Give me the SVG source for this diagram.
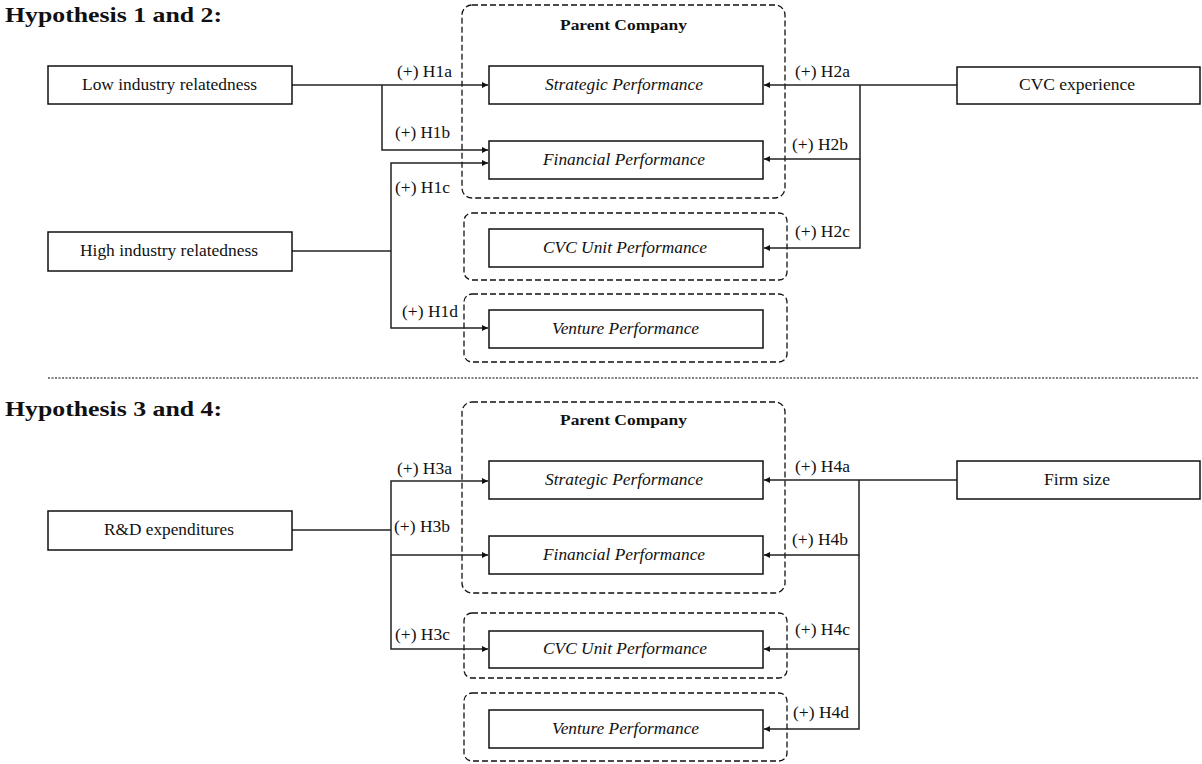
<svg xmlns="http://www.w3.org/2000/svg" width="1202" height="764" viewBox="0 0 1202 764">
  <style>
    text { font-family: "Liberation Serif", "Times New Roman", serif; fill: #111; }
    .title { font-size: 22px; font-weight: bold; }
    .group-title { font-size: 15px; font-weight: bold; }
    .label { font-size: 16px; }
    .node-text { font-size: 16px; }
    .outcome-text { font-size: 16px; font-style: italic; }
    .box { fill: #fff; stroke: #111; stroke-width: 1.5; }
    .frame { fill: none; stroke: #111; stroke-width: 1.3; stroke-dasharray: 6 3; }
    .link { fill: none; stroke: #222; stroke-width: 1.5; }
    .arrow { marker-end: url(#head); }
    .divider { stroke: #555; stroke-width: 1.5; stroke-dasharray: 2 1.5; }
  </style>
  <defs>
    <marker id="head" viewBox="0 0 10 10" refX="10" refY="5" markerWidth="6" markerHeight="6" markerUnits="userSpaceOnUse" orient="auto">
      <path d="M0,0 L10,5 L0,10 z" fill="#111"/>
    </marker>
  </defs>

  <rect width="1202" height="764" fill="#fff"/>

  <!-- ===== Hypotheses 1 and 2 ===== -->
  <text class="title" x="5" y="22" textLength="217" lengthAdjust="spacingAndGlyphs">Hypothesis 1 and 2:</text>

  <g id="frames-top">
    <rect class="frame" x="462" y="5" width="323" height="193" rx="10"/>
    <text class="group-title" x="560" y="30" textLength="127" lengthAdjust="spacingAndGlyphs">Parent Company</text>
    <rect class="frame" x="464" y="213" width="323" height="67" rx="8"/>
    <rect class="frame" x="464" y="294" width="323" height="68" rx="8"/>
  </g>

  <g id="connectors-top">
    <path class="link arrow" d="M292,85 H488"/>
    <path class="link arrow" d="M382,85 V150 H488"/>
    <path class="link" d="M292,251 H391"/>
    <path class="link arrow" d="M391,251 V163 H488"/>
    <path class="link arrow" d="M391,251 V328 H488"/>
    <path class="link arrow" d="M957,85 H764"/>
    <path class="link arrow" d="M860,85 V159 H764"/>
    <path class="link arrow" d="M860,159 V248 H764"/>
    <text class="label" x="397" y="77" textLength="55" lengthAdjust="spacingAndGlyphs">(+) H1a</text>
    <text class="label" x="395" y="138" textLength="55" lengthAdjust="spacingAndGlyphs">(+) H1b</text>
    <text class="label" x="395" y="193" textLength="55" lengthAdjust="spacingAndGlyphs">(+) H1c</text>
    <text class="label" x="402" y="317" textLength="56" lengthAdjust="spacingAndGlyphs">(+) H1d</text>
    <text class="label" x="795" y="77" textLength="55" lengthAdjust="spacingAndGlyphs">(+) H2a</text>
    <text class="label" x="792" y="150" textLength="56" lengthAdjust="spacingAndGlyphs">(+) H2b</text>
    <text class="label" x="795" y="237" textLength="55" lengthAdjust="spacingAndGlyphs">(+) H2c</text>
  </g>

  <g id="low-relatedness">
    <rect class="box" x="48" y="66" width="244" height="38"/>
    <text class="node-text" x="82" y="90" textLength="175" lengthAdjust="spacingAndGlyphs">Low industry relatedness</text>
  </g>
  <g id="high-relatedness">
    <rect class="box" x="48" y="232" width="244" height="39"/>
    <text class="node-text" x="80" y="256" textLength="178" lengthAdjust="spacingAndGlyphs">High industry relatedness</text>
  </g>
  <g id="cvc-experience">
    <rect class="box" x="957" y="67" width="243" height="37"/>
    <text class="node-text" x="1019" y="90" textLength="116" lengthAdjust="spacingAndGlyphs">CVC experience</text>
  </g>
  <g id="strategic-1">
    <rect class="box" x="489" y="66" width="274" height="38"/>
    <text class="outcome-text" x="545" y="90" textLength="158" lengthAdjust="spacingAndGlyphs">Strategic Performance</text>
  </g>
  <g id="financial-1">
    <rect class="box" x="489" y="141" width="274" height="38"/>
    <text class="outcome-text" x="543" y="165" textLength="162" lengthAdjust="spacingAndGlyphs">Financial Performance</text>
  </g>
  <g id="cvc-unit-1">
    <rect class="box" x="489" y="229" width="274" height="38"/>
    <text class="outcome-text" x="543" y="253" textLength="164" lengthAdjust="spacingAndGlyphs">CVC Unit Performance</text>
  </g>
  <g id="venture-1">
    <rect class="box" x="489" y="310" width="274" height="38"/>
    <text class="outcome-text" x="552" y="334" textLength="147" lengthAdjust="spacingAndGlyphs">Venture Performance</text>
  </g>

  <line class="divider" x1="48" y1="378" x2="1198" y2="378"/>

  <!-- ===== Hypotheses 3 and 4 ===== -->
  <text class="title" x="5" y="416" textLength="217" lengthAdjust="spacingAndGlyphs">Hypothesis 3 and 4:</text>

  <g id="frames-bottom">
    <rect class="frame" x="462" y="402" width="323" height="191" rx="10"/>
    <text class="group-title" x="560" y="425" textLength="127" lengthAdjust="spacingAndGlyphs">Parent Company</text>
    <rect class="frame" x="464" y="613" width="323" height="65" rx="8"/>
    <rect class="frame" x="464" y="693" width="323" height="68" rx="8"/>
  </g>

  <g id="connectors-bottom">
    <path class="link" d="M292,530 H391"/>
    <path class="link arrow" d="M391,530 V481 H488"/>
    <path class="link arrow" d="M391,555 H488"/>
    <path class="link arrow" d="M391,530 V649 H488"/>
    <path class="link arrow" d="M957,480 H764"/>
    <path class="link arrow" d="M859,480 V555 H764"/>
    <path class="link arrow" d="M859,555 V649 H764"/>
    <path class="link arrow" d="M859,649 V729 H764"/>
    <text class="label" x="397" y="474" textLength="55" lengthAdjust="spacingAndGlyphs">(+) H3a</text>
    <text class="label" x="394" y="532" textLength="56" lengthAdjust="spacingAndGlyphs">(+) H3b</text>
    <text class="label" x="395" y="640" textLength="55" lengthAdjust="spacingAndGlyphs">(+) H3c</text>
    <text class="label" x="795" y="472" textLength="55" lengthAdjust="spacingAndGlyphs">(+) H4a</text>
    <text class="label" x="792" y="545" textLength="56" lengthAdjust="spacingAndGlyphs">(+) H4b</text>
    <text class="label" x="795" y="635" textLength="55" lengthAdjust="spacingAndGlyphs">(+) H4c</text>
    <text class="label" x="793" y="718" textLength="56" lengthAdjust="spacingAndGlyphs">(+) H4d</text>
  </g>

  <g id="rd-expenditures">
    <rect class="box" x="48" y="511" width="244" height="39"/>
    <text class="node-text" x="104" y="535" textLength="130" lengthAdjust="spacingAndGlyphs">R&amp;D expenditures</text>
  </g>
  <g id="firm-size">
    <rect class="box" x="957" y="461" width="243" height="38"/>
    <text class="node-text" x="1044" y="485" textLength="66" lengthAdjust="spacingAndGlyphs">Firm size</text>
  </g>
  <g id="strategic-2">
    <rect class="box" x="489" y="461" width="274" height="38"/>
    <text class="outcome-text" x="545" y="485" textLength="158" lengthAdjust="spacingAndGlyphs">Strategic Performance</text>
  </g>
  <g id="financial-2">
    <rect class="box" x="489" y="536" width="274" height="38"/>
    <text class="outcome-text" x="543" y="560" textLength="162" lengthAdjust="spacingAndGlyphs">Financial Performance</text>
  </g>
  <g id="cvc-unit-2">
    <rect class="box" x="489" y="631" width="274" height="37"/>
    <text class="outcome-text" x="543" y="654" textLength="164" lengthAdjust="spacingAndGlyphs">CVC Unit Performance</text>
  </g>
  <g id="venture-2">
    <rect class="box" x="489" y="710" width="274" height="38"/>
    <text class="outcome-text" x="552" y="734" textLength="147" lengthAdjust="spacingAndGlyphs">Venture Performance</text>
  </g>
</svg>
